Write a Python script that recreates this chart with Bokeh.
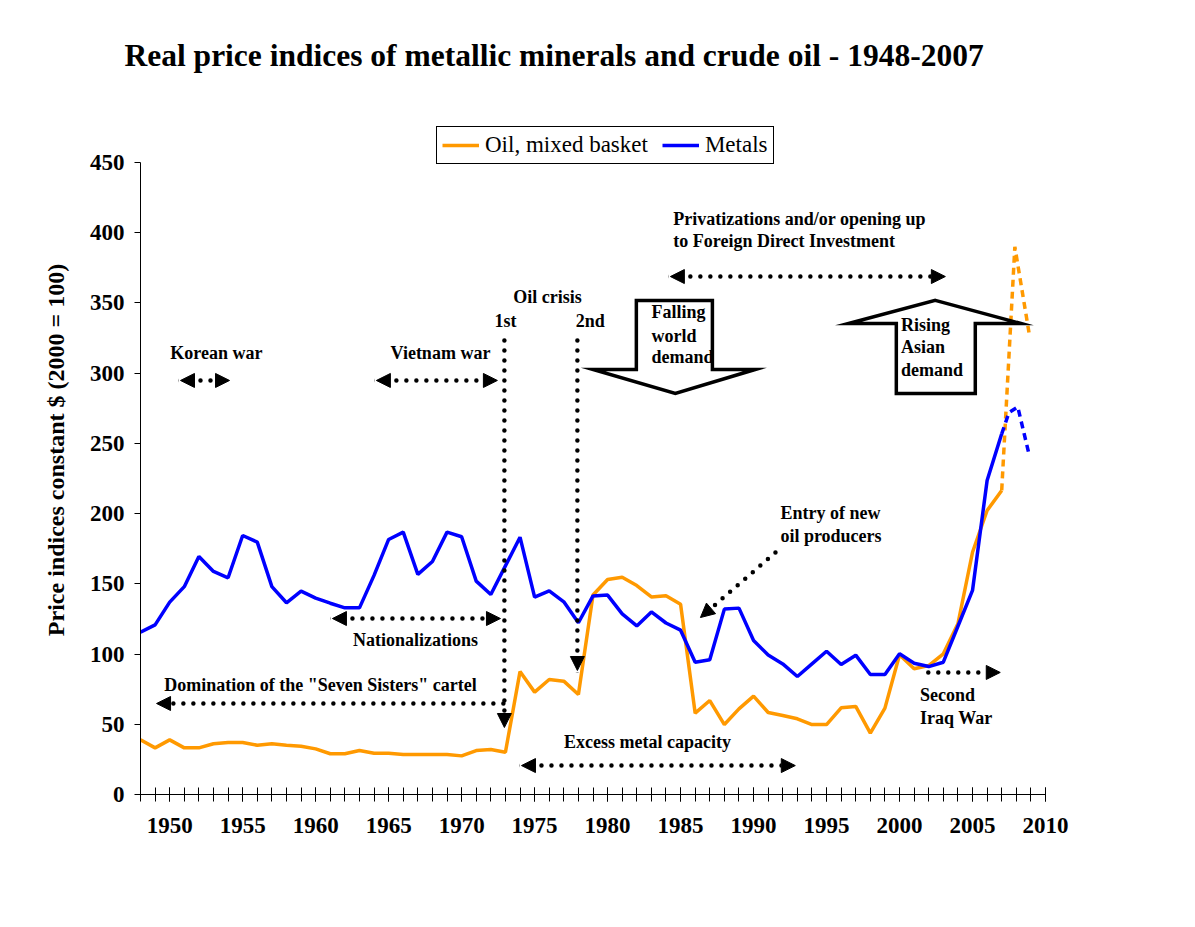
from bokeh.plotting import figure
from bokeh.models import (Range1d, FixedTicker, Arrow, NormalHead,
                          Legend, LegendItem, ColumnDataSource)
from bokeh.embed import file_html
from bokeh.resources import INLINE
from bokeh.core.properties import value

# ---------------- data ----------------
years = list(range(1948, 2008))
oil = [38.9, 33.2, 38.9, 33.2, 33.2, 36.1, 37.0, 37.0, 35.1, 36.1,
       35.1, 34.4, 32.5, 29.0, 29.0, 31.3, 29.4, 29.4, 28.5, 28.5,
       28.5, 28.5, 27.5, 31.3, 32.0, 30.1, 87.5, 72.9, 81.9, 80.7,
       71.2, 142.0, 153.1, 154.7, 148.8, 140.7, 141.5, 135.5, 57.9, 66.9,
       49.8, 61.0, 70.0, 58.4, 56.3, 53.9, 49.8, 49.8, 61.7, 62.7,
       43.7, 61.5, 99.5, 89.5, 91.8, 100.2, 121.5, 172.5, 202.2, 216.5]
metals = [115.6, 120.8, 137.0, 148.0, 169.5, 158.8, 154.3, 184.4, 179.7, 148.0,
          136.5, 144.8, 139.8, 136.2, 132.9, 132.9, 156.0, 181.6, 186.8, 156.7,
          165.9, 186.8, 183.5, 151.9, 142.4, 162.8, 183.2, 140.5, 145.0, 137.2,
          122.3, 141.4, 142.0, 128.6, 120.0, 130.0, 122.1, 117.0, 94.2, 95.9,
          132.0, 132.7, 109.7, 99.3, 93.0, 84.0, 93.0, 102.0, 92.6, 99.2,
          85.4, 85.4, 100.2, 93.5, 91.1, 94.2, 119.8, 145.3, 223.6, 256.8]
oil_proj_years = [2007, 2007.9, 2008.9]
oil_proj = [216.5, 390, 327]
metals_proj_years = [2007, 2007.5, 2008.1, 2008.9]
metals_proj = [256.8, 272, 276, 241]

x_tick_labels = [1950, 1955, 1960, 1965, 1970, 1975, 1980, 1985, 1990, 1995, 2000, 2005, 2010]
y_ticks = [0, 50, 100, 150, 200, 250, 300, 350, 400, 450]

ORANGE = "#FF9900"
BLUE = "#0000FF"
SERIF = "Liberation Serif"
ANN_SIZE = "18px"

# ---------------- figure ----------------
# frame extends above 450 so that the legend sits inside it;
# the y axis itself is bounded to 0..450
p = figure(width=1179, height=911, output_backend="svg", toolbar_location=None,
           x_range=Range1d(1948, 2010), y_range=Range1d(0, 490.58),
           min_border_left=140, min_border_right=134,
           min_border_top=105, min_border_bottom=117)
p.outline_line_color = None
p.xgrid.grid_line_color = None
p.ygrid.grid_line_color = None
p.background_fill_color = "white"
p.border_fill_color = "white"

# title
p.title.text = "Real price indices of metallic minerals and crude oil - 1948-2007"
p.title.text_font = SERIF
p.title.text_font_style = "bold"
p.title.text_font_size = "31.5px"
p.title.text_color = "black"
p.title.align = "left"
p.title.offset = -16
p.title.standoff = 65

# axes
xa = p.xaxis[0]
xa.ticker = FixedTicker(ticks=x_tick_labels, minor_ticks=list(range(1948, 2011)))
xa.major_tick_in = 7
xa.major_tick_out = 7
xa.minor_tick_in = 7
xa.minor_tick_out = 7
xa.minor_tick_line_color = "black"
xa.major_tick_line_color = "black"
xa.axis_line_color = "black"
xa.major_label_standoff = 16
ya = p.yaxis[0]
ya.ticker = FixedTicker(ticks=y_ticks)
ya.bounds = (0, 450)
ya.major_tick_in = 0
ya.major_tick_out = 6
ya.minor_tick_line_color = None
ya.axis_line_color = "black"
ya.major_tick_line_color = "black"
ya.major_label_standoff = 10
ya.axis_label = "Price indices constant $ (2000 = 100)"
ya.axis_label_text_font = SERIF
ya.axis_label_text_font_style = "bold"
ya.axis_label_text_font_size = "24px"
ya.axis_label_text_color = "black"
ya.axis_label_standoff = 18
for ax in (xa, ya):
    ax.major_label_text_font = SERIF
    ax.major_label_text_font_style = "bold"
    ax.major_label_text_font_size = "23px"
    ax.major_label_text_color = "black"

# ---------------- series ----------------
r_oil = p.line(years, oil, line_color=ORANGE, line_width=3.5)
r_met = p.line(years, metals, line_color=BLUE, line_width=3.5)
p.line(oil_proj_years, oil_proj, line_color=ORANGE, line_width=3.5, line_dash="7 5")
p.line(metals_proj_years, metals_proj, line_color=BLUE, line_width=3.5, line_dash="7 5")

# ---------------- big block arrows ----------------
fall_x = [1981.97, 1987.18, 1987.18, 1990.1, 1984.64, 1979.0, 1981.97]
fall_y = [351.8, 351.8, 302.6, 302.6, 285.5, 302.6, 302.6]
p.patch(fall_x, fall_y, fill_color="white", line_color="black", line_width=3.5,
        line_join="miter")
rise_x = [2002.45, 2008.3, 2005.19, 2005.19, 1999.78, 1999.78, 1996.5]
rise_y = [351.8, 335.4, 335.4, 285.5, 285.5, 335.4, 335.4]
p.patch(rise_x, rise_y, fill_color="white", line_color="black", line_width=3.5,
        line_join="miter")

# ---------------- dotted arrows ----------------
def darrow(x0, y0, x1, y1, both=False):
    end = NormalHead(size=14, fill_color="black", line_color="black", line_width=1)
    start = NormalHead(size=14, fill_color="black", line_color="black", line_width=1) if both else None
    a = Arrow(x_start=x0, y_start=y0, x_end=x1, y_end=y1, end=end, start=start,
              line_color="black", line_width=4.5, line_dash="0 10", line_cap="round")
    p.add_layout(a)

darrow(1950.74, 294.8, 1954.10, 294.8, both=True)      # Korean war
darrow(1964.16, 294.8, 1972.45, 294.8, both=True)      # Vietnam war
darrow(1972.93, 323.3, 1972.93, 47.7)                  # 1st oil crisis
darrow(1977.93, 323.3, 1977.93, 88.3)                  # 2nd oil crisis
darrow(1961.15, 125.3, 1972.66, 125.3, both=True)      # Nationalizations
darrow(1972.86, 64.8, 1949.10, 64.8)                   # Seven sisters
darrow(1974.10, 20.6, 1992.86, 20.6, both=True)        # Excess metal capacity
darrow(1984.30, 368.8, 2003.14, 368.8, both=True)      # Privatizations
darrow(1991.50, 172.3, 1986.36, 126.0)                 # Entry of new producers
darrow(2001.97, 86.9, 2006.90, 86.9)                   # Iraq war

# ---------------- annotation texts ----------------
center_txt = dict(
    text=["Korean war", "Vietnam war", "Oil crisis", "1st", "2nd", "Nationalizations",
          'Domination of the "Seven Sisters" cartel', "Excess metal capacity"],
    x=[1953.2, 1968.55, 1975.88, 1973.0, 1978.82, 1966.84, 1960.33, 1982.73],
    y=[314.0, 314.0, 353.9, 336.8, 336.8, 109.7, 78.3, 37.7])
p.text(x="x", y="y", text="text", source=ColumnDataSource(center_txt),
       text_font=value(SERIF), text_font_style="bold", text_font_size=ANN_SIZE,
       text_align="center", text_baseline="middle", text_color="black")

left_txt = dict(
    text=["Privatizations and/or opening up", "to Foreign Direct Investment",
          "Falling", "world", "demand", "Rising", "Asian", "demand",
          "Entry of new", "oil producers", "Second", "Iraq War"],
    x=[1984.5, 1984.5, 1983.0, 1983.0, 1983.0, 2000.1, 2000.1, 2000.1,
       1991.84, 1991.84, 2001.4, 2001.4],
    y=[410.1, 393.8, 343.9, 326.8, 311.2, 334.0, 318.3, 302.6,
       200.1, 184.4, 70.5, 54.8])
p.text(x="x", y="y", text="text", source=ColumnDataSource(left_txt),
       text_font=value(SERIF), text_font_style="bold", text_font_size=ANN_SIZE,
       text_align="left", text_baseline="middle", text_color="black")

# ---------------- legend ----------------
legend = Legend(items=[LegendItem(label="Oil, mixed basket", renderers=[r_oil]),
                       LegendItem(label="Metals", renderers=[r_met])],
                location=(296, 630), orientation="horizontal",
                label_text_font=SERIF, label_text_font_size="23px",
                label_text_color="black",
                glyph_width=37, glyph_height=22, label_height=22, label_standoff=6,
                spacing=14, padding=5, margin=0,
                border_line_color="black", border_line_width=1, border_line_alpha=1,
                background_fill_color="white", background_fill_alpha=1)
p.add_layout(legend)

open("out.html", "w").write(file_html(p, INLINE))
